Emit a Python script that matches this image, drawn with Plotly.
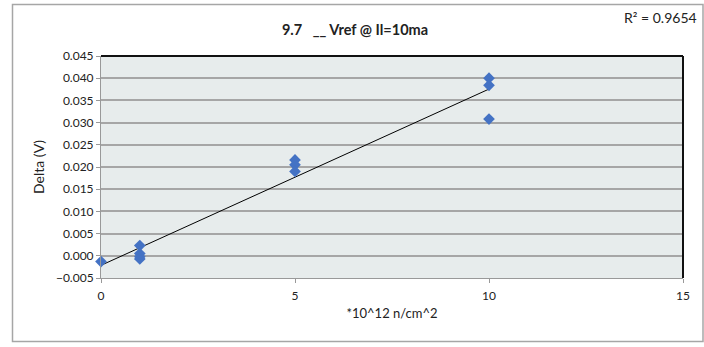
import numpy as np
import plotly.graph_objects as go

# Data
fluence = [0, 1, 1, 1, 1, 5, 5, 5, 10, 10, 10]
delta_v = [-0.0013, 0.0023, 0.0005, -0.0002, -0.0007, 0.0216, 0.0205, 0.0190, 0.0400, 0.0384, 0.0308]
x_ticks = [0, 5, 10, 15]
title_text = "9.7   __ Vref @ Il=10ma"
r2_text = "R² = 0.9654"

slope, intercept = np.polyfit(fluence, delta_v, 1)
tx = [min(fluence), max(fluence)]
ty = [slope * v + intercept for v in tx]

W, H = 704, 347
L, R, T, B = 101, 21, 56, 69
pw, ph = W - L - R, H - T - B

def px(x):
    return (x - L) / pw

def py(y):
    return (H - B - y) / ph

fig = go.Figure()
fig.add_trace(go.Scatter(x=tx, y=ty, mode="lines",
                         line=dict(color="black", width=1), hoverinfo="skip"))
fig.add_trace(go.Scatter(x=fluence, y=delta_v, mode="markers",
                         marker=dict(symbol="diamond", size=9, color="#4472C4"),
                         cliponaxis=False))

font = "Lato, 'Liberation Sans', sans-serif"
fig.update_layout(
    width=W, height=H,
    margin=dict(l=L, r=R, t=T, b=B),
    paper_bgcolor="white",
    plot_bgcolor="#E7ECEC",
    showlegend=False,
    font=dict(family=font, size=12, color="#222"),
    title=dict(text=title_text, x=355 / W, xanchor="center",
               y=1 - 30 / H, yanchor="middle",
               font=dict(size=14.5, family=font, weight="bold")),
    xaxis=dict(range=[0, 15], tickvals=x_ticks, showgrid=False, zeroline=False,
               showline=True, linecolor="#999", linewidth=1,
               ticks="outside", ticklen=4, tickcolor="#999",
               tickfont=dict(size=12), ticklabelstandoff=3,
               title=dict(text="*10^12 n/cm^2", font=dict(size=13), standoff=6)),
    yaxis=dict(range=[-0.005, 0.045], dtick=0.005, tickformat=".3f",
               showgrid=True, gridcolor="#A6A6A6", gridwidth=1.5, zeroline=False,
               showline=True, linecolor="#999", linewidth=1,
               ticks="outside", ticklen=4, tickcolor="#999",
               tickfont=dict(size=12),
               title=dict(text="Delta (V)", font=dict(size=14), standoff=8)),
    shapes=[
        dict(type="line", xref="paper", yref="paper", x0=0, x1=1, y0=1, y1=1,
             line=dict(color="#111", width=2)),
        dict(type="line", xref="paper", yref="paper", x0=1, x1=1, y0=0, y1=1,
             line=dict(color="#111", width=2)),
        dict(type="rect", xref="paper", yref="paper",
             x0=px(12.5), x1=px(703), y0=py(341.5), y1=py(4.5),
             line=dict(color="#A6A6A6", width=1.5), layer="below"),
    ],
    annotations=[
        dict(text=r2_text, xref="paper", yref="paper",
             x=px(699), y=py(17), xanchor="right", yanchor="middle",
             showarrow=False, font=dict(size=14, family=font)),
    ],
)

fig.write_html("out.html")
